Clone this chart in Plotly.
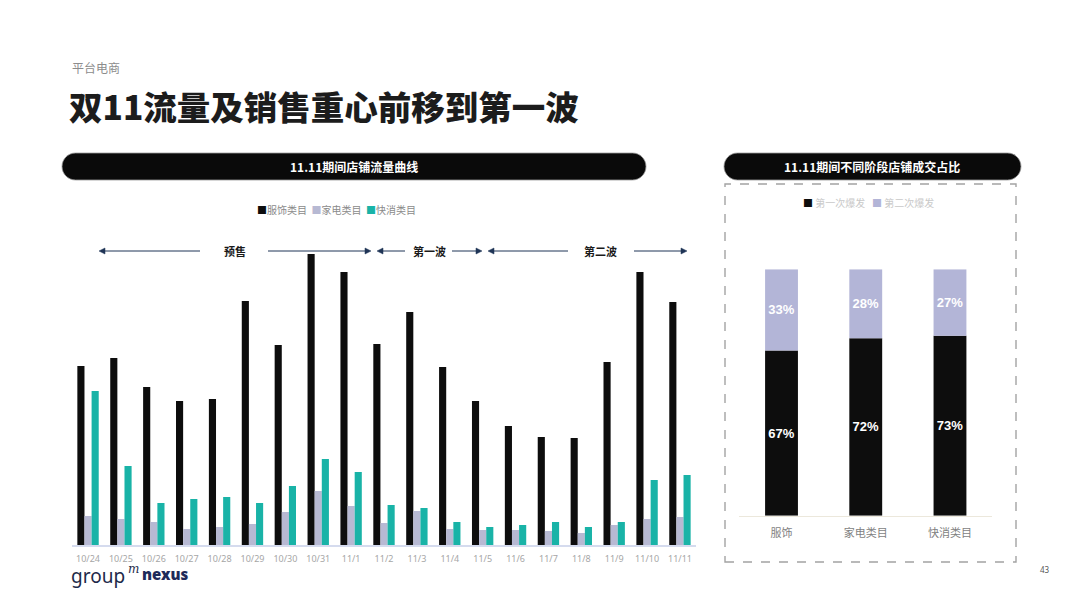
import plotly.graph_objects as go

# ---------------- data ----------------
dates = ["10/24", "10/25", "10/26", "10/27", "10/28", "10/29", "10/30", "10/31", "11/1",
         "11/2", "11/3", "11/4", "11/5", "11/6", "11/7", "11/8", "11/9", "11/10", "11/11"]
apparel = [179, 187, 158, 144, 146, 244, 200, 291, 273, 201, 233, 178, 144, 119, 108, 107, 183, 273, 243]
appliance = [29, 26, 23, 16, 18, 21, 33, 54, 39, 22, 34, 16, 15, 15, 14, 12, 20, 26, 28]
fmcg = [154, 79, 42, 46, 48, 42, 59, 86, 73, 40, 37, 23, 18, 20, 23, 18, 23, 65, 70]
series_names = ["服饰类目", "家电类目", "快消类目"]

stage_cats = ["服饰", "家电类目", "快消类目"]
first_wave = [0.67, 0.72, 0.73]
second_wave = [0.33, 0.28, 0.27]
stage_names = ["第一次爆发", "第二次爆发"]

W, H = 1080, 608
def px(x):
    return x / W
def py(y):
    return 1 - y / H

BLACK = "#0d0d0d"
LAV = "#b7b9d3"
TEAL = "#19b3a7"
LAV2 = "#b3b5d7"

fig = go.Figure()
for name, vals, col in zip(series_names, [apparel, appliance, fmcg], [BLACK, LAV, TEAL]):
    fig.add_trace(go.Bar(x=dates, y=vals, name=name, marker=dict(color=col, line=dict(width=0)),
                         xaxis="x", yaxis="y", showlegend=False, hoverinfo="x+y"))

pct_font = dict(color="white", size=13, family="Liberation Sans, Arial", weight="bold")
fig.add_trace(go.Bar(x=stage_cats, y=first_wave, name=stage_names[0], xaxis="x2", yaxis="y2",
                     marker=dict(color=BLACK, line=dict(width=0)), showlegend=False,
                     offsetgroup="s", width=0.39,
                     text=[f"{v*100:.0f}%" for v in first_wave], textposition="inside",
                     insidetextanchor="middle", textangle=0, textfont=pct_font))
fig.add_trace(go.Bar(x=stage_cats, y=second_wave, base=first_wave, name=stage_names[1],
                     xaxis="x2", yaxis="y2",
                     marker=dict(color=LAV2, line=dict(width=0)), showlegend=False,
                     offsetgroup="s", width=0.39,
                     text=[f"{v*100:.0f}%" for v in second_wave], textposition="inside",
                     insidetextanchor="middle", textangle=0, textfont=pct_font))

# left axes: plot area x 71.6..696.4 , baseline at 545, top 245 (range 0..300)
lx0, lx1 = 71.6, 696.4
ly_base, ly_top = 545, 245
# right axes
rx0, rx1 = 739.4, 992.1
ry_base, ry_top = 515.7, 269.3

fig.update_layout(
    width=W, height=H,
    margin=dict(l=0, r=0, t=0, b=0),
    paper_bgcolor="white", plot_bgcolor="rgba(0,0,0,0)",
    barmode="group", bargap=0.35, bargroupgap=0,
    font=dict(family="Noto Sans CJK SC, sans-serif"),
    xaxis=dict(domain=[px(lx0), px(lx1)], anchor="y", showgrid=False, zeroline=False,
               showline=True, linecolor="#d5dbee", linewidth=1.5, ticks="",
               ticklabelstandoff=4,
               tickfont=dict(size=9, color="#a6a6a6", family="Noto Sans, sans-serif")),
    yaxis=dict(domain=[py(ly_base), py(ly_top)], range=[0, 300], visible=False, fixedrange=True),
    xaxis2=dict(domain=[px(rx0), px(rx1)], anchor="y2", showgrid=False, zeroline=False,
                showline=True, linecolor="#ece8dc", linewidth=1, ticks="",
                ticklabelstandoff=7,
                tickfont=dict(size=11, color="#7f7f7f")),
    yaxis2=dict(domain=[py(ry_base), py(ry_top)], range=[0, 1], visible=False, fixedrange=True),
)

shapes = []

def pill(x0, y0, x1, y1):
    r = (y1 - y0) / 2
    k = 0.5523 * r
    pts = []
    pts.append(f"M {px(x0+r)},{py(y0)}")
    pts.append(f"L {px(x1-r)},{py(y0)}")
    pts.append(f"C {px(x1-r+k)},{py(y0)} {px(x1)},{py(y0+r-k)} {px(x1)},{py(y0+r)}")
    pts.append(f"C {px(x1)},{py(y0+r+k)} {px(x1-r+k)},{py(y1)} {px(x1-r)},{py(y1)}")
    pts.append(f"L {px(x0+r)},{py(y1)}")
    pts.append(f"C {px(x0+r-k)},{py(y1)} {px(x0)},{py(y1-r+k)} {px(x0)},{py(y1-r)}")
    pts.append(f"C {px(x0)},{py(y0+r-k)} {px(x0+r-k)},{py(y0)} {px(x0+r)},{py(y0)} Z")
    return dict(type="path", xref="paper", yref="paper", path=" ".join(pts),
                fillcolor="#0a0a0a", line=dict(color="#9a9a9a", width=0.8), layer="below")

shapes.append(pill(62, 153, 646, 180))
shapes.append(pill(724, 153, 1021, 180))
shapes.append(dict(type="rect", xref="paper", yref="paper", x0=px(725), x1=px(1016),
                   y0=py(562), y1=py(184), line=dict(color="#a3a3a3", width=1.4, dash="dash"),
                   fillcolor="rgba(0,0,0,0)", layer="below"))

# phase arrows drawn as line + triangle head
AR = "#1f3456"
arrow_y = 251
phases = [
    ("预售", 235, [(99, 200), (371, 268)]),
    ("第一波", 429, [(377, 405), (482, 452)]),
    ("第二波", 600, [(488, 568), (687, 634)]),
]
for label, cx, segs in phases:
    for head, tail in segs:
        d = 1 if head > tail else -1
        shapes.append(dict(type="line", xref="paper", yref="paper",
                           x0=px(tail), x1=px(head - d * 5), y0=py(arrow_y), y1=py(arrow_y),
                           line=dict(color=AR, width=1)))
        tri = (f"M {px(head)},{py(arrow_y)} L {px(head - d*6)},{py(arrow_y - 3)} "
               f"L {px(head - d*6)},{py(arrow_y + 3)} Z")
        shapes.append(dict(type="path", xref="paper", yref="paper", path=tri,
                           fillcolor=AR, line=dict(color=AR, width=0.5)))
fig.update_layout(shapes=shapes)

ann = []
def text(x, y, s, size, color, xanchor="left", weight="normal", family=None, style="normal"):
    d = dict(xref="paper", yref="paper", x=px(x), y=py(y), text=s, showarrow=False,
             xanchor=xanchor, yanchor="middle",
             font=dict(size=size, color=color, family=family or "Noto Sans CJK SC, sans-serif",
                       weight=weight, style=style))
    ann.append(d)

text(70, 68, "平台电商", 12, "#8c8c8c")
text(67, 106, "双11流量及销售重心前移到第一波", 33.5, "#1c1c1c", weight=900)
text(354, 166.5, "11.11期间店铺流量曲线", 12, "white", "center", weight="bold")
text(872, 166.5, "11.11期间不同阶段店铺成交占比", 12, "white", "center", weight="bold")

leg1 = (f"<span style='color:{BLACK}'>■</span>{series_names[0]}  "
        f"<span style='color:{LAV}'>■</span>{series_names[1]}  "
        f"<span style='color:{TEAL}'>■</span>{series_names[2]}")
text(336, 209, leg1, 10, "#8a8a8a", "center")
leg2 = (f"<span style='color:{BLACK}'>■</span> {stage_names[0]}   "
        f"<span style='color:{LAV2}'>■</span> {stage_names[1]}")
text(868, 202, leg2, 10, "#c9c9c9", "center")

for label, cx, segs in phases:
    text(cx, arrow_y, label, 11, "#1a1a1a", "center", weight="bold")

# logo and page number
text(69, 576, "group", 19, "#1e2a4a", family="Noto Sans, sans-serif", weight=400)
text(126, 569, "m", 12, "#1e2a4a", family="DejaVu Serif, serif", style="italic")
text(140, 574, "nexus", 15, "#1e2a5a", family="Noto Sans, sans-serif", weight=900)
text(1045, 569, "43", 8, "#555555", "center", family="Noto Sans, sans-serif")

fig.update_layout(annotations=ann)
fig.write_html("out.html", config={"displayModeBar": False},
               post_script="document.body.style.margin='0';")
